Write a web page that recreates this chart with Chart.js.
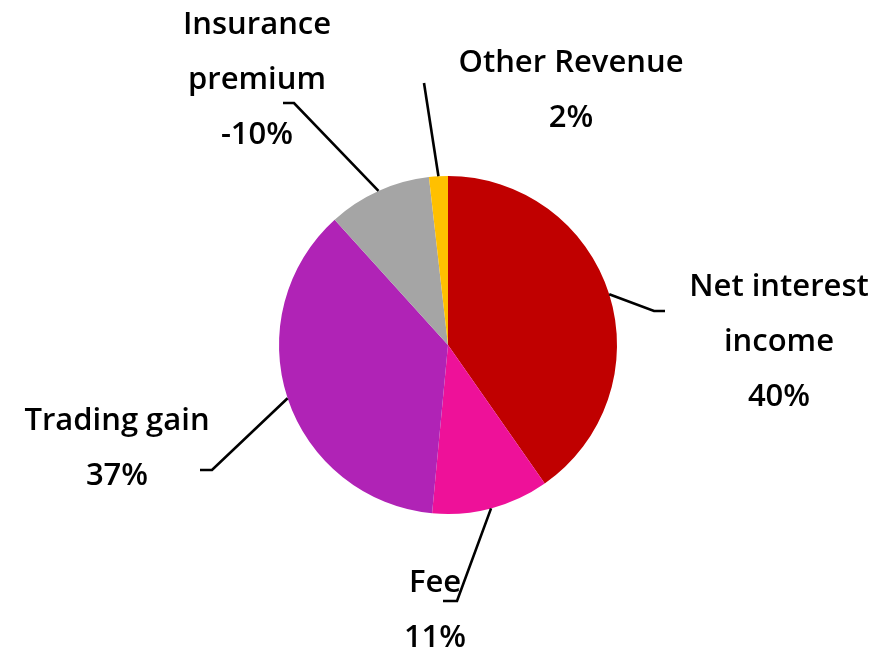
<!DOCTYPE html>
<html>
<head>
<meta charset="utf-8">
<script src="https://cdn.jsdelivr.net/npm/chart.js@4"></script>
<style>
  html, body { margin: 0; padding: 0; background: #fff; }
  #wrap { width: 894px; height: 652px; position: relative; }
</style>
</head>
<body>
<div id="wrap"><canvas id="pieChart" width="894" height="652"></canvas></div>
<script>
// Revenue mix (share of total, %)
const categories = ['Net interest income', 'Fee', 'Trading gain', 'Insurance premium', 'Other Revenue'];
const shares = [40.3, 11.2, 36.8, 9.9, 1.8];
// label text as printed on the chart
const labelLines = [
    ['Net interest', 'income', '40%'],
    ['Fee', '11%'],
    ['Trading gain', '37%'],
    ['Insurance', 'premium', '-10%'],
    ['Other Revenue', '2%']
];
const sliceColors = ['#C00000', '#EE1199', '#B023B6', '#A5A5A5', '#FFC000'];

// label layout, offsets from the pie centre (px)
const labelLayout = [
    { elbow: [206, -34], end: [217, -34], text: [331, -58] },
    { elbow: [9, 256], end: [-5, 256], text: [-13, 238] },
    { elbow: [-236, 125], end: [-248, 125], text: [-331, 76] },
    { elbow: [-154, -242], end: [-165, -242], text: [-191, -320] },
    { elbow: [-24, -262], end: null, text: [123, -282] }
];
const lineHeight = 55;

// draws leader lines + labels outside the pie
const outsideLabels = {
    id: 'outsideLabels',
    afterDatasetsDraw(chart) {
        const ctx = chart.ctx;
        const meta = chart.getDatasetMeta(0);
        ctx.save();
        ctx.strokeStyle = '#000';
        ctx.lineWidth = 2.6;
        ctx.fillStyle = '#000';
        ctx.font = '600 31px "Open Sans", sans-serif';
        ctx.textAlign = 'center';
        ctx.textBaseline = 'middle';
        meta.data.forEach((arc, i) => {
            const p = arc.getProps(['x', 'y', 'startAngle', 'endAngle', 'outerRadius'], true);
            const mid = (p.startAngle + p.endAngle) / 2;
            const sx = p.x + Math.cos(mid) * p.outerRadius;
            const sy = p.y + Math.sin(mid) * p.outerRadius;
            const lay = labelLayout[i];
            ctx.beginPath();
            ctx.moveTo(sx, sy);
            ctx.lineTo(p.x + lay.elbow[0], p.y + lay.elbow[1]);
            if (lay.end) ctx.lineTo(p.x + lay.end[0], p.y + lay.end[1]);
            ctx.stroke();
            labelLines[i].forEach((line, k) => {
                ctx.fillText(line, p.x + lay.text[0], p.y + lay.text[1] + k * lineHeight);
            });
        });
        ctx.restore();
    }
};

const ctx = document.getElementById('pieChart').getContext('2d');
const pieChart = new Chart(ctx, {
    type: 'pie',
    data: {
        labels: categories,
        datasets: [{
            data: shares,
            backgroundColor: sliceColors,
            borderWidth: 0
        }]
    },
    options: {
        responsive: false,
        animation: false,
        layout: {
            padding: { left: 279, right: 277, top: 176, bottom: 138 }
        },
        plugins: {
            legend: { display: false },
            tooltip: { enabled: false }
        }
    },
    plugins: [outsideLabels]
});
</script>
</body>
</html>
